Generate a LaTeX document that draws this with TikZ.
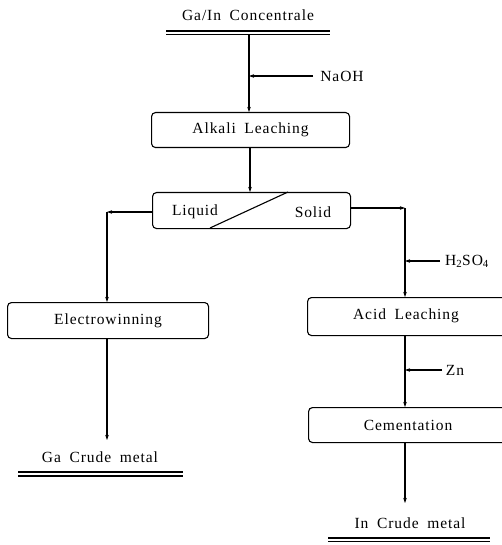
\documentclass[tikz,border=0pt]{standalone}
\usepackage{fontspec}
\setmainfont{Liberation Serif}[LetterSpace=6, WordSpace=1.8]
\usetikzlibrary{arrows.meta}
\begin{document}
\begin{tikzpicture}[x=1pt,y=-1pt,
  every node/.style={font=\fontsize{15.5}{17}\selectfont, inner sep=0pt},
  proc/.style={draw, line width=1.1pt, rounded corners=4pt, anchor=north west},
  flow/.style={line width=1.1pt, -{Stealth[length=5pt,width=3.5pt]}},
  plain/.style={line width=1.1pt},
  dbl/.style={line width=1.1pt}]
\useasboundingbox (0,0) rectangle (502,545);
\clip (0,0) rectangle (502,545);
% top product
\node (conc) at (248,15) {Ga/In Concentrale};
\draw[dbl] (166,31) -- (330,31) (166,34.5) -- (330,34.5);
\coordinate (concb) at (249,34.5);
% boxes
\node[proc, minimum width=198pt, minimum height=35pt] (alk) at (151,112) {};
\node at (alk.center) {Alkali Leaching};
\node[proc, minimum width=198pt, minimum height=36pt] (sep) at (152,192) {};
\draw[plain] (210,228) -- (288,192);
\node (liq) at (195,212) {Liquid};
\node (sol) at (313,212) {Solid};
\node[proc, minimum width=201pt, minimum height=36pt] (elec) at (7,302) {};
\node at (elec.center) {Electrowinning};
\node[proc, minimum width=220pt, minimum height=38pt] (acid) at (307,297) {};
\node (acidt) at (406,316) {Acid Leaching};
\node[proc, minimum width=220pt, minimum height=35pt] (cem) at (308,407) {};
\node (cemt) at (408,425) {Cementation};
% reagents
\node (naoh) at (342,76) {NaOH};
\node (h2so4) at (467,261) {H\textsubscript{2}SO\textsubscript{4}};
\node (zn) at (455,370) {Zn};
% products
\node (ga) at (100,457) {Ga Crude metal};
\draw[dbl] (18,472) -- (183,472) (18,476) -- (183,476);
\node (in) at (410,523) {In Crude metal};
\draw[dbl] (328,538) -- (490,538) (328,541.5) -- (490,541.5);
% coordinates
\coordinate (cl) at (107,212);
\coordinate (cr) at (405,208);
\coordinate (m1) at (249,76);
\coordinate (m2) at (405,261);
\coordinate (m3) at (405,370);
\coordinate (eb) at (107,338);
\coordinate (gatop) at (107,440);
\coordinate (intop) at (405,503);
% connectors
\draw[flow] (concb) -- (concb |- alk.north);
\draw[flow] (313,76) -- (m1);
\draw[flow] (alk.south -| 250,0) -- (250,192);
\draw[flow] (sep.west |- cl) -- (cl);
\draw[flow] (cl) -- (cl |- elec.north);
\draw[flow] (sep.east |- cr) -- (cr);
\draw[flow] (cr) -- (cr |- acid.north);
\draw[flow] (440,261) -- (m2);
\draw[flow] (405,335) -- (405,407);
\draw[flow] (442,370) -- (m3);
\draw[flow] (eb) -- (gatop);
\draw[flow] (405,442) -- (intop);
\end{tikzpicture}
\end{document}
